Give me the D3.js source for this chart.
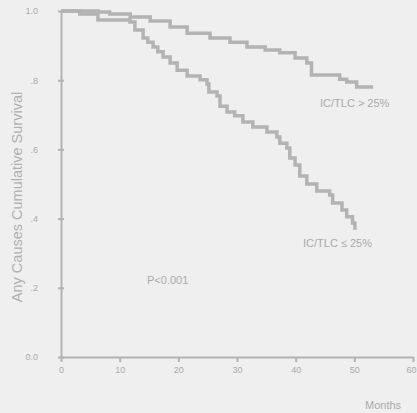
<!DOCTYPE html>
<html><head><meta charset="utf-8">
<script src="https://cdn.jsdelivr.net/npm/d3@7"></script>
<style>body{margin:0;background:#efefef;}svg{display:block;}</style>
</head><body>
<script>
const xTicks = [0, 10, 20, 30, 40, 50, 60];
const yTicks = [0, 0.2, 0.4, 0.6, 0.8, 1.0];
const yTickLabels = ["0.0", ".2", ".4", ".6", ".8", "1.0"];
// Kaplan-Meier steps: [month, survival]
const highMonths = [0, 6.3, 8.3, 11.8, 15.2, 18.6, 21.5, 25.4, 28.8, 31.7, 34.8, 37.3, 39.9, 41.9, 42.7, 47.5, 48.7, 50.4];
const highSurv   = [1.0, 0.997, 0.991, 0.983, 0.971, 0.954, 0.936, 0.922, 0.910, 0.896, 0.887, 0.879, 0.864, 0.850, 0.815, 0.803, 0.795, 0.780];
const highEnd = 53.2;
const lowMonths = [0, 3.2, 6.3, 11.75, 12.6, 14.0, 14.8, 15.7, 16.5, 17.4, 18.6, 19.8, 21.5, 23.7, 24.9, 25.2, 26.6, 27.1, 28.3, 29.6, 31.0, 32.7, 35.1, 36.8, 37.3, 38.5, 39.0, 39.9, 40.7, 41.9, 43.6, 45.8, 46.3, 47.9, 48.7, 49.7, 50.1];
const lowSurv   = [1.0, 0.991, 0.974, 0.968, 0.945, 0.922, 0.910, 0.896, 0.882, 0.867, 0.850, 0.829, 0.812, 0.801, 0.789, 0.766, 0.754, 0.725, 0.708, 0.697, 0.679, 0.665, 0.650, 0.636, 0.618, 0.604, 0.575, 0.555, 0.523, 0.500, 0.480, 0.468, 0.445, 0.425, 0.405, 0.387, 0.373];
const lowEnd = 50.4;
const labels = {high: "IC/TLC > 25%", low: "IC/TLC \u2264 25%", p: "P<0.001", x: "Months", y: "Any Causes Cumulative Survival"};

const W = 417, H = 413;
const svg = d3.select("body").append("svg").attr("width", W).attr("height", H);
svg.append("rect").attr("width", W).attr("height", H).attr("fill", "#efefef");

const x = d3.scaleLinear().domain([0, 60]).range([61, 413]);
const y = d3.scaleLinear().domain([0, 1]).range([357, 11]);
const grey = "#b3b3b3";
const font = "Liberation Sans, Arial, sans-serif";

// axes
const xAxis = svg.append("g").attr("transform", `translate(0,${y(0)})`)
  .call(d3.axisBottom(x).tickValues(xTicks).tickSize(5).tickPadding(5).tickSizeOuter(0));
const yAxis = svg.append("g").attr("transform", `translate(${x(0)},0)`)
  .call(d3.axisLeft(y).tickValues(yTicks).tickFormat((d, i) => yTickLabels[i]).tickSize(3).tickPadding(20).tickSizeOuter(0));
[xAxis, yAxis].forEach(g => {
  g.select(".domain").attr("stroke", grey).attr("stroke-width", 2);
  g.selectAll(".tick line").attr("stroke", grey).attr("stroke-width", 2);
  g.selectAll(".tick text").attr("fill", "#aaaaaa").attr("font-family", font).attr("font-size", 9);
});
yAxis.selectAll(".tick line").attr("x2", 3).attr("x1", -3);
// keep the last x label inside the window
xAxis.selectAll(".tick").filter(d => d === 60).select("text").attr("text-anchor", "end").attr("dx", 3);

const line = d3.line().x(d => x(d[0])).y(d => y(d[1])).curve(d3.curveStepAfter);
function series(ms, ss, end) {
  const pts = ms.map((m, i) => [m, ss[i]]);
  pts.push([end, ss[ss.length - 1]]);
  return pts;
}
svg.append("path").datum(series(lowMonths, lowSurv, lowEnd)).attr("d", line)
  .attr("fill", "none").attr("stroke", grey).attr("stroke-width", 3.5);
svg.append("path").datum(series(highMonths, highSurv, highEnd)).attr("d", line)
  .attr("fill", "none").attr("stroke", grey).attr("stroke-width", 3.5);

const txt = (t, px, py, size, anchor) => svg.append("text").text(t).attr("x", px).attr("y", py)
  .attr("font-family", font).attr("font-size", size).attr("fill", "#aaaaaa").attr("text-anchor", anchor || "start");
txt(labels.high, 320, 107, 11);
txt(labels.low, 303, 247, 11);
txt(labels.p, 147, 284, 11);
txt(labels.x, 365, 409, 11);
svg.append("text").text(labels.y)
  .attr("transform", "translate(22,197) rotate(-90)")
  .attr("font-family", font).attr("font-size", 14.5).attr("fill", "#b0b0b0").attr("text-anchor", "middle");
</script>
</body></html>
